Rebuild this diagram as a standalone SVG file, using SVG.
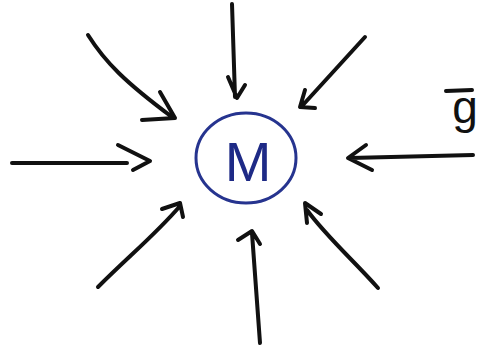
<svg xmlns="http://www.w3.org/2000/svg" width="480" height="349" viewBox="0 0 480 349">
<style>
.arr{fill:none;stroke:#111;stroke-width:4;stroke-linecap:round;stroke-linejoin:round}
.node{fill:#fff;stroke:#26348f;stroke-width:3}
.mtext{font-family:"Liberation Sans",sans-serif;font-size:56px;fill:#1e2a86}
.gtext{font-family:"Liberation Sans",sans-serif;font-size:46px;fill:#111}
</style>
<rect width="480" height="349" fill="#fff"/>
<g id="connectors">
<path class="arr" d="M88,35 C105,62 125,82 172,117 M142,120 L175,118 L160,92"/>
<path class="arr" d="M232,4 L235,97 M228,77 L237,98 L245,85"/>
<path class="arr" d="M365,37 L302,106 M305,90 L300,107 L315,108"/>
<path class="arr" d="M12,163 L127,163 M118,145 L150,161 L133,170"/>
<path class="arr" d="M473,155 L350,158 M366,145 L348,158 L372,170"/>
<path class="arr" d="M98,287 C130,255 155,235 180,206 M162,209 L180,203 L183,217"/>
<path class="arr" d="M378,288 C355,262 325,235 307,210 M307,223 L305,203 L321,214"/>
<path class="arr" d="M260,343 L252,233 M238,240 L252,231 L260,244"/>
</g>
<g id="node-M">
<ellipse class="node" cx="246" cy="158" rx="50" ry="45"/>
<text class="mtext" x="248" y="181" text-anchor="middle">M</text>
</g>
<g id="label-g">
<line class="arr" x1="446" y1="91" x2="472" y2="90"/>
<text class="gtext" x="465" y="123" text-anchor="middle">g</text>
</g>
</svg>
